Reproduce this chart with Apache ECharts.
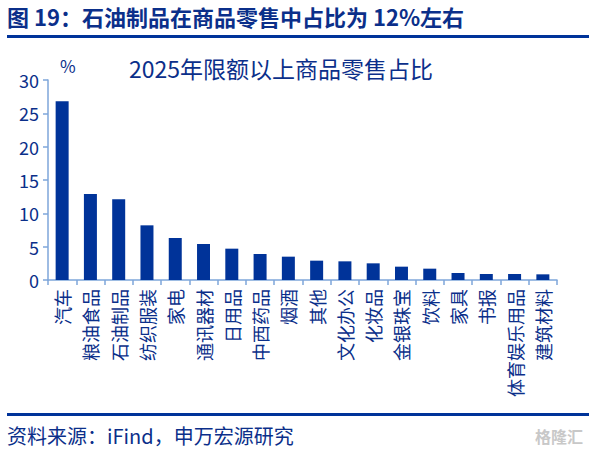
<!DOCTYPE html>
<html>
<head>
<meta charset="utf-8">
<script src="https://cdn.jsdelivr.net/npm/echarts@6/dist/echarts.min.js"></script>
<style>
  html, body { margin: 0; padding: 0; background: #fff; }
  #chart { width: 589px; height: 454px; }
</style>
</head>
<body>
<div id="chart"></div>
<script>
var categories = ['汽车', '粮油食品', '石油制品', '纺织服装', '家电', '通讯器材', '日用品', '中西药品', '烟酒',
  '其他', '文化办公', '化妆品', '金银珠宝', '饮料', '家具', '书报', '体育娱乐用品', '建筑材料'];
var shares = [26.8, 12.9, 12.1, 8.2, 6.3, 5.4, 4.7, 3.9, 3.5, 2.9, 2.8, 2.5, 2.0, 1.7, 1.05, 0.9, 0.9, 0.85];
var yTicks = { min: 0, max: 30, interval: 5 };

var ink = '#0b2f8a';
var bar = '#003399';
var axisCol = '#7ea6da';
var font = '"Noto Sans CJK SC", "Liberation Sans", sans-serif';

var chart = echarts.init(document.getElementById('chart'), null, { renderer: 'svg' });
chart.setOption({
  animation: false,
  textStyle: { fontFamily: font },
  title: {
    text: '2025年限额以上商品零售占比',
    left: 124, top: 51,
    textStyle: { color: ink, fontSize: 23, fontWeight: 'normal', fontFamily: font }
  },
  grid: { left: 48, right: 32, top: 80, bottom: 174 },
  xAxis: {
    type: 'category',
    data: categories,
    axisLine: { lineStyle: { color: axisCol, width: 1.5 } },
    axisTick: { show: true, length: 5, lineStyle: { color: axisCol, width: 1.5 } },
    axisLabel: { color: ink, fontSize: 18, rotate: 90, interval: 0, margin: 9, fontFamily: font }
  },
  yAxis: {
    type: 'value',
    min: yTicks.min, max: yTicks.max, interval: yTicks.interval,
    name: '%',
    nameLocation: 'end',
    nameGap: 6,
    nameTextStyle: { color: ink, fontSize: 17, align: 'left', padding: [0, 0, 0, 12] },
    axisLine: { show: true, lineStyle: { color: axisCol, width: 1.5 } },
    axisTick: { show: true, inside: false, length: 5, lineStyle: { color: axisCol, width: 1.5 } },
    splitLine: { show: false },
    axisLabel: { color: ink, fontSize: 18, margin: 9, fontFamily: font }
  },
  series: [{
    type: 'bar',
    data: shares,
    barWidth: 13,
    itemStyle: { color: bar }
  }],
  graphic: [
    {
      type: 'text', left: 7, top: 5,
      style: { text: '图 19：石油制品在商品零售中占比为 12%左右', fill: ink, font: 'bold 22px ' + font }
    },
    { type: 'rect', shape: { x: 7, y: 35, width: 582, height: 3 }, style: { fill: '#003399' } },
    { type: 'rect', shape: { x: 7, y: 413, width: 582, height: 3 }, style: { fill: '#003399' } },
    {
      type: 'text', left: 7, top: 425,
      style: { text: '资料来源：iFind，申万宏源研究', fill: ink, font: '20px ' + font }
    },
    {
      type: 'text', right: 6, top: 428,
      style: { text: '格隆汇', fill: '#c8c8c8', font: 'bold 16px ' + font }
    }
  ]
});
</script>
</body>
</html>
